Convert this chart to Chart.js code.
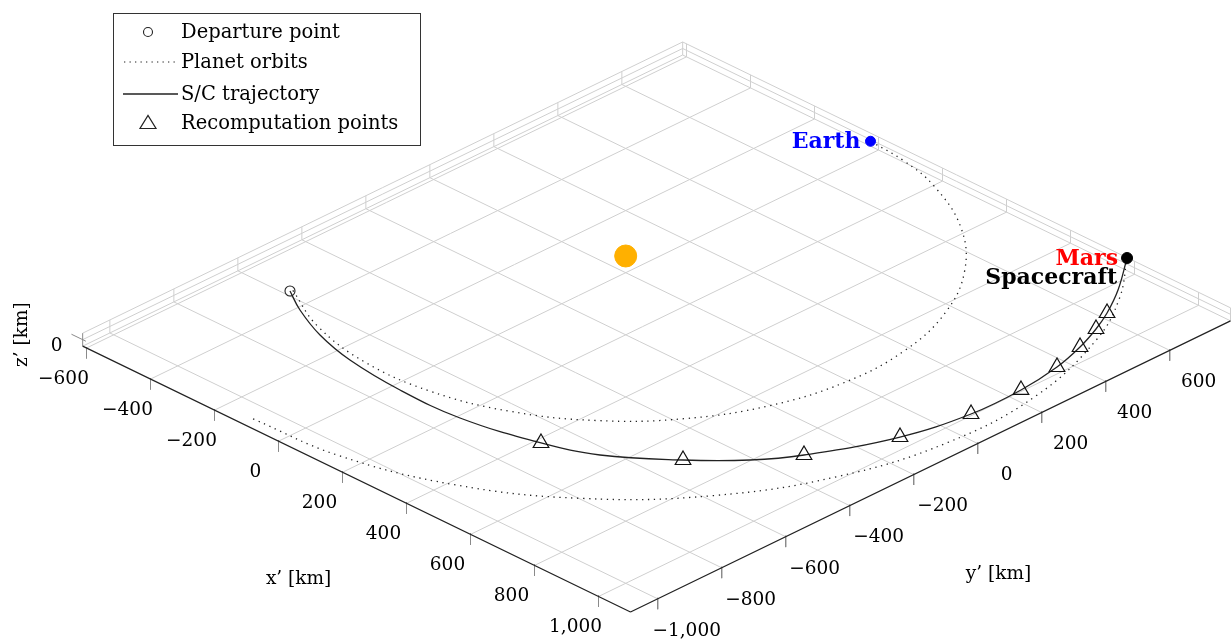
<!DOCTYPE html>
<html><head><meta charset="utf-8">
<script src="https://cdn.jsdelivr.net/npm/chart.js@4.4.0/dist/chart.umd.min.js"></script>
<style>html,body{margin:0;padding:0;background:#fff}#wrap{width:1231px;height:642px;position:relative}</style>
</head><body><div id="wrap"><canvas id="c"></canvas></div>
<script>
// ---- axis ranges and ticks (km) ----
const xRange = [-612, 1100];
const yRange = [-1085, 790];
const zRange = [-1, 1];
const xTicks = [-600, -400, -200, 0, 200, 400, 600, 800, 1000];
const xTickLabels = ['−600', '−400', '−200', '0', '200', '400', '600', '800', '1,000'];
const yTicks = [-1000, -800, -600, -400, -200, 0, 200, 400, 600];
const yTickLabels = ['−1,000', '−800', '−600', '−400', '−200', '0', '200', '400', '600'];
const zTicks = [0];
const zTickLabels = ['0'];
const planeZ = 1.57; // height of orbital plane

// ---- S/C trajectory (x', y') ----
const trajX = [-411.9, -335.1, -223.3, -96.0, 78.8, 262.7, 469.7, 600.6, 746.4, 851.0, 919.3, 1011.4, 1048.3, 1049.0, 1031.3, 1002.9, 969.9, 935.6, 878.7, 789.8];
const trajY = [-637.2, -682.8, -732.0, -765.7, -784.1, -780.5, -734.4, -680.9, -567.3, -462.6, -362.1, -154.2, 30.9, 186.3, 316.6, 416.9, 499.8, 568.6, 659.8, 776.9];

// ---- recomputation points ----
const recompX = [469.7, 746.4, 919.3, 1011.4, 1048.3, 1049.0, 1031.3, 1002.9, 969.9, 935.6];
const recompY = [-734.4, -567.3, -362.1, -154.2, 30.9, 186.3, 316.6, 416.9, 499.8, 568.6];

// ---- planet orbits ----
const earthOrbitX = [-409.5, -257.2, -65.5, 130.6, 317.8, 483.4, 616.0, 706.7, 749.1, 740.6, 681.5, 576.1, 431.3, 257.2, 130.6, 13.1];
const earthOrbitY = [-630.7, -706.7, -749.1, -740.6, -681.5, -576.1, -431.3, -257.2, -65.5, 130.6, 317.8, 483.4, 616.0, 706.7, 740.6, 751.9];
const marsOrbitX = [-58.0, 192.4, 468.3, 712.2, 907.6, 1041.2, 1103.8, 1091.2, 1004.2, 907.6, 790.3];
const marsOrbitY = [-1106.5, -1091.2, -1004.2, -848.8, -635.5, -379.0, -96.6, 192.4, 468.3, 635.5, 776.6];

// ---- bodies ----
const departure = [-411.9, -637.2];
const sunPos = [0, 0];
const earthPos = [13.1, 751.9];
const marsPos = [789.8, 776.9];

const legendLabels = ['Departure point', 'Planet orbits', 'S/C trajectory', 'Recomputation points'];

// ---- view (orthographic 3D projection) ----
const VIEW = {ox: 625.7, oy: 272.7, kx: 0.32, ky: 0.1553, kz: 6.5};
function proj(x, y, z) {
  return {x: VIEW.ox + VIEW.kx * (x + y), y: VIEW.oy + VIEW.ky * (x - y) - VIEW.kz * (z - zRange[0])};
}
const GAP = {x: null, y: null};
function segs(list) { const out = []; list.forEach(s => { out.push(proj(...s[0]), proj(...s[1]), GAP); }); return out; }

const [x0, x1] = xRange, [y0, y1] = yRange, [z0, z1] = zRange;
const gridSegs = [];
xTicks.forEach(t => gridSegs.push([[t, y0, z0], [t, y1, z0]]));
yTicks.forEach(t => gridSegs.push([[x0, t, z0], [x1, t, z0]]));
gridSegs.push([[x0, y0, z0], [x0, y1, z0]], [[x0, y1, z0], [x1, y1, z0]]);
// back wall x'=min
gridSegs.push([[x0, y0, z1], [x0, y1, z1]]);
zTicks.forEach(t => gridSegs.push([[x0, y0, t], [x0, y1, t]]));
yTicks.concat([y1]).forEach(t => gridSegs.push([[x0, t, z0], [x0, t, z1]]));
// back wall y'=max
gridSegs.push([[x0, y1, z1], [x1, y1, z1]]);
zTicks.forEach(t => gridSegs.push([[x0, y1, t], [x1, y1, t]]));
xTicks.concat([x1]).forEach(t => gridSegs.push([[t, y1, z0], [t, y1, z1]]));

const tickSegs = [];
xTicks.forEach(t => tickSegs.push([[t, y0, z0 + 0.15], [t, y0, z0 - 1.6]]));
yTicks.forEach(t => tickSegs.push([[x1, t, z0 + 0.15], [x1, t, z0 - 1.6]]));
zTicks.forEach(t => tickSegs.push([[x0 - 35, y0, t], [x0 + 10, y0, t]]));
tickSegs.push([[x0, y0, z0], [x0, y0, z1]]);

const axisSegs = [[[x0, y0, z0], [x1, y0, z0]], [[x1, y0, z0], [x1, y1, z0]]];

const onPlane = (xs, ys) => xs.map((v, i) => proj(v, ys[i], planeZ));

const overlay = {
  id: 'overlay',
  afterDatasetsDraw(chart) {
    const ctx = chart.ctx, sx = chart.scales.x, sy = chart.scales.y;
    const P = (x, y, z) => { const p = proj(x, y, z); return [sx.getPixelForValue(p.x), sy.getPixelForValue(p.y)]; };
    ctx.save();
    ctx.fillStyle = '#000';
    ctx.font = '18.5px "DejaVu Serif"';
    ctx.textAlign = 'center'; ctx.textBaseline = 'middle';
    xTicks.forEach((t, i) => { const [px, py] = P(t, y0, z0); ctx.fillText(xTickLabels[i], px - 23, py + 31); });
    yTicks.forEach((t, i) => { const [px, py] = P(x1, t, z0); ctx.fillText(yTickLabels[i], px + 29, py + 32); });
    zTicks.forEach((t, i) => { const [px, py] = P(x0, y0, t); ctx.fillText(zTickLabels[i], px - 26, py + 7); });
    // axis labels
    let [ax, ay] = P((x0 + x1) / 2, y0, z0);
    ctx.fillText('x’ [km]', ax - 58, ay + 100);
    [ax, ay] = P(x1, (y0 + y1) / 2, z0);
    ctx.fillText('y’ [km]', ax + 68, ay + 108);
    [ax, ay] = P(x0, y0, 0);
    ctx.save(); ctx.translate(ax - 60, ay - 5); ctx.rotate(-Math.PI / 2); ctx.fillText('z’ [km]', 0, 0); ctx.restore();
    // planet labels
    ctx.font = 'bold 22px "DejaVu Serif"';
    ctx.textAlign = 'right';
    let [bx, by] = P(earthPos[0], earthPos[1], planeZ);
    ctx.fillStyle = '#0000ff'; ctx.fillText('Earth', bx - 10, by + 1);
    [bx, by] = P(marsPos[0], marsPos[1], planeZ);
    ctx.fillStyle = '#ff0000'; ctx.fillText('Mars', bx - 9, by + 1);
    ctx.fillStyle = '#000'; ctx.fillText('Spacecraft', bx - 10, by + 20);
    // legend
    ctx.fillStyle = '#fff';
    ctx.fillRect(113, 13, 307, 132);
    ctx.strokeStyle = '#333'; ctx.lineWidth = 1;
    ctx.strokeRect(113.5, 13.5, 307, 132);
    const rows = [32, 62, 94, 123];
    ctx.font = '19.5px "DejaVu Serif"'; ctx.textAlign = 'left'; ctx.fillStyle = '#000';
    legendLabels.forEach((l, i) => ctx.fillText(l, 181, rows[i] + 1));
    ctx.strokeStyle = '#222';
    ctx.beginPath(); ctx.arc(148, rows[0], 4.5, 0, Math.PI * 2); ctx.lineWidth = 1.1; ctx.stroke();
    ctx.setLineDash([1.3, 4.2]); ctx.beginPath(); ctx.moveTo(124, rows[1]); ctx.lineTo(178, rows[1]); ctx.stroke();
    ctx.setLineDash([]); ctx.lineWidth = 1.3; ctx.beginPath(); ctx.moveTo(123, rows[2]); ctx.lineTo(178, rows[2]); ctx.stroke();
    ctx.lineWidth = 1.2; ctx.beginPath(); ctx.moveTo(140, rows[3] + 5.5); ctx.lineTo(156, rows[3] + 5.5); ctx.lineTo(148, rows[3] - 7.5); ctx.closePath(); ctx.stroke();
    ctx.restore();
  }
};

new Chart(document.getElementById('c'), {
  type: 'scatter',
  data: {
    datasets: [
      {label: 'grid', data: segs(gridSegs), showLine: true, spanGaps: false, borderColor: '#cfcfcf', borderWidth: 1, pointRadius: 0, order: 20},
      {label: 'ticks', data: segs(tickSegs), showLine: true, spanGaps: false, borderColor: '#8a8a8a', borderWidth: 1, pointRadius: 0, order: 19},
      {label: 'axes', data: segs(axisSegs), showLine: true, spanGaps: false, borderColor: '#222', borderWidth: 1.2, pointRadius: 0, order: 18},
      {label: 'Earth orbit', data: onPlane(earthOrbitX, earthOrbitY), showLine: true, borderColor: '#222', borderWidth: 1.3, borderDash: [1.3, 4.6], tension: 0.4, pointRadius: 0, order: 10},
      {label: 'Mars orbit', data: onPlane(marsOrbitX, marsOrbitY), showLine: true, borderColor: '#222', borderWidth: 1.3, borderDash: [1.3, 4.6], tension: 0.4, pointRadius: 0, order: 9},
      {label: 'S/C trajectory', data: onPlane(trajX, trajY), showLine: true, borderColor: '#222', borderWidth: 1.3, tension: 0.4, pointRadius: 0, order: 8},
      {label: 'Recomputation points', data: onPlane(recompX, recompY), pointStyle: 'triangle', pointRadius: 9, pointBorderColor: '#111', pointBackgroundColor: 'rgba(0,0,0,0)', pointBorderWidth: 1.2, order: 6},
      {label: 'Departure point', data: onPlane([departure[0]], [departure[1]]), pointStyle: 'circle', pointRadius: 5, pointBorderColor: '#222', pointBackgroundColor: 'rgba(0,0,0,0)', pointBorderWidth: 1.1, order: 5},
      {label: 'Sun', data: onPlane([sunPos[0]], [sunPos[1]]), pointRadius: 11, pointBackgroundColor: '#ffb000', pointBorderColor: '#ffb000', order: 4},
      {label: 'Earth', data: onPlane([earthPos[0]], [earthPos[1]]), pointRadius: 5, pointBackgroundColor: '#0000ff', pointBorderColor: '#0000ff', order: 3},
      {label: 'Mars', data: onPlane([marsPos[0]], [marsPos[1]]), pointRadius: 5.5, pointBackgroundColor: '#000', pointBorderColor: '#000', order: 2}
    ]
  },
  options: {
    responsive: true, maintainAspectRatio: false, animation: false,
    layout: {padding: 0, autoPadding: false},
    events: [],
    plugins: {legend: {display: false}, tooltip: {enabled: false}},
    scales: {
      x: {type: 'linear', min: 0, max: 1231, display: false},
      y: {type: 'linear', min: 0, max: 642, reverse: true, display: false}
    }
  },
  plugins: [overlay]
});
</script></body></html>
